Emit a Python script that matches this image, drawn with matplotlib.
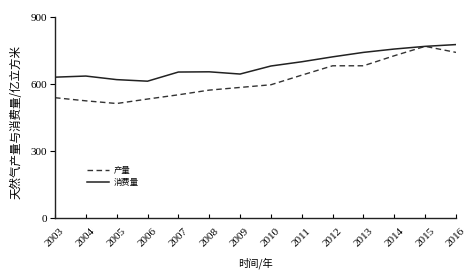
# -*- coding: utf-8 -*-
import numpy as np
import matplotlib
matplotlib.use("Agg")
import matplotlib.pyplot as plt

# ====== Datos ======
years = [2003, 2004, 2005, 2006, 2007, 2008, 2009,
         2010, 2011, 2012, 2013, 2014, 2015, 2016]
produccion = [539, 525, 513, 533, 552, 573, 585,
              597, 640, 682, 682, 727, 769, 742]
consumo = [631, 636, 620, 613, 654, 655, 645,
           681, 700, 722, 742, 757, 769, 777]
y_ticks = [0, 300, 600, 900]

serie_labels = ["产量", "消费量"]
xlabel = "时间/年"
ylabel = "天然气产量与消费量/亿立方米"

CJK = ["Noto Sans CJK SC", "DejaVu Sans"]
SERIF = ["Liberation Serif", "DejaVu Serif"]

fig = plt.figure(figsize=(4.74, 2.76), dpi=100)
ax = fig.add_axes([0.116, 0.210, 0.846, 0.728])

ax.plot(years, produccion, color="#333333", lw=1.0, ls=(0, (4, 2.5)),
        label=serie_labels[0])
ax.plot(years, consumo, color="#222222", lw=1.1, ls="-",
        label=serie_labels[1])

ax.set_xlim(2003, 2016)
ax.set_ylim(0, 900)
ax.set_yticks(y_ticks)
ax.set_xticks(years)
ax.set_xticklabels([str(y) for y in years], rotation=45, ha="center",
                   family=SERIF, fontsize=8)
ax.set_yticklabels([str(v) for v in y_ticks], family=SERIF, fontsize=8)

for s in ["top", "right"]:
    ax.spines[s].set_visible(False)
for s in ["left", "bottom"]:
    ax.spines[s].set_linewidth(1.0)
    ax.spines[s].set_color("#222222")

ax.tick_params(axis="x", direction="in", length=3, width=0.8, pad=6)
ax.tick_params(axis="y", direction="out", length=3.5, width=0.8, pad=2)

ax.set_xlabel(xlabel, family=CJK, fontsize=7.4)
ax.set_ylabel(ylabel, family=CJK, fontsize=8.3)
ax.xaxis.set_label_coords(0.499, -0.195)
ax.yaxis.set_label_coords(-0.080, 0.48)

leg = ax.legend(loc="upper left", bbox_to_anchor=(0.062, 0.295), frameon=False,
                prop={"family": CJK, "size": 6}, handlelength=2.6,
                labelspacing=0.35, handletextpad=0.6)

fig.savefig("out.png", dpi=100)
